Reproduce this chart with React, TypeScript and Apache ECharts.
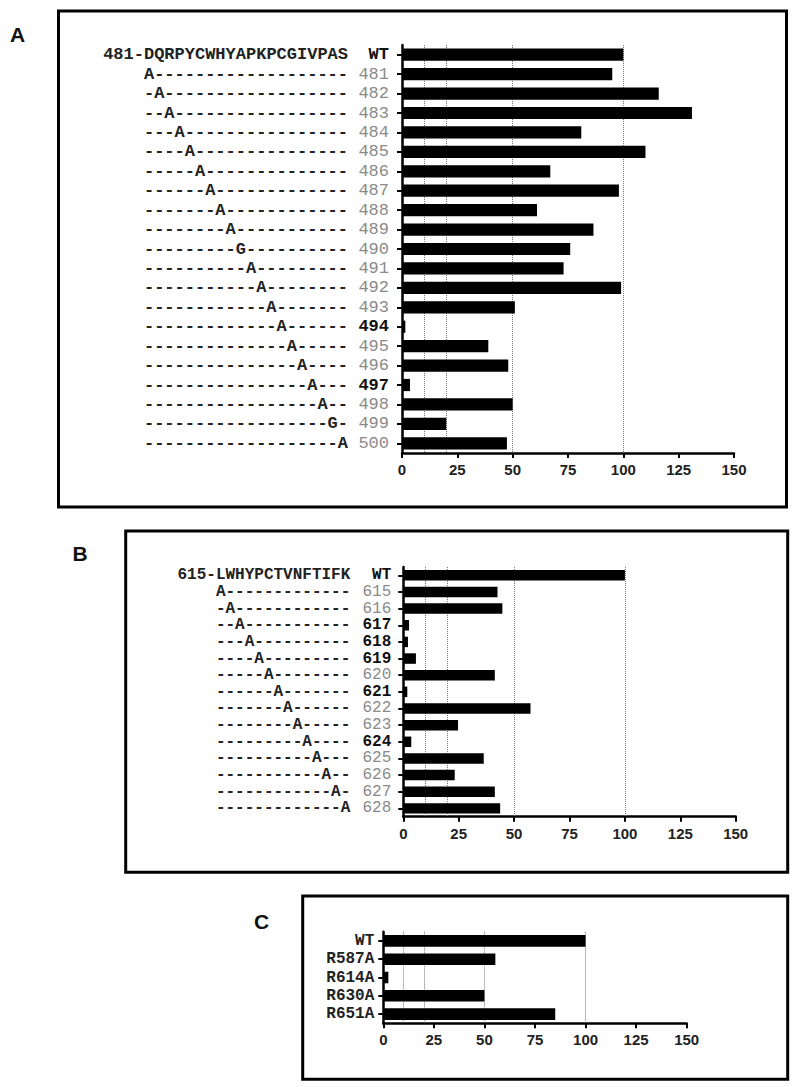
import React, { useEffect, useRef } from 'react';
import * as echarts from 'echarts';

// ---------- Panel A ----------
const aNumbers = ['WT', '481', '482', '483', '484', '485', '486', '487', '488', '489', '490', '491', '492', '493', '494', '495', '496', '497', '498', '499', '500'];
const aSequences = [
  '481-DQRPYCWHYAPKPCGIVPAS',
  'A-------------------',
  '-A------------------',
  '--A-----------------',
  '---A----------------',
  '----A---------------',
  '-----A--------------',
  '------A-------------',
  '-------A------------',
  '--------A-----------',
  '---------G----------',
  '----------A---------',
  '-----------A--------',
  '------------A-------',
  '-------------A------',
  '--------------A-----',
  '---------------A----',
  '----------------A---',
  '-----------------A--',
  '------------------G-',
  '-------------------A',
];
const aValues = [100, 95, 116, 131, 81, 110, 67, 98, 61, 86.5, 76, 73, 99, 51, 1.5, 39, 48, 3.6, 50, 20, 47.4];
const aBold = ['WT', '494', '497'];

// ---------- Panel B ----------
const bNumbers = ['WT', '615', '616', '617', '618', '619', '620', '621', '622', '623', '624', '625', '626', '627', '628'];
const bSequences = [
  '615-LWHYPCTVNFTIFK',
  'A-------------',
  '-A------------',
  '--A-----------',
  '---A----------',
  '----A---------',
  '-----A--------',
  '------A-------',
  '-------A------',
  '--------A-----',
  '---------A----',
  '----------A---',
  '-----------A--',
  '------------A-',
  '-------------A',
];
const bValues = [100, 42.5, 44.7, 2.6, 2.1, 5.7, 41.3, 1.8, 57.4, 24.7, 3.6, 36.3, 23.2, 41.3, 43.7];
const bBold = ['WT', '617', '618', '619', '621', '624'];

// ---------- Panel C ----------
const cLabels = ['WT', 'R587A', 'R614A', 'R630A', 'R651A'];
const cValues = [100, 55.4, 2.5, 50, 85];

// ---------- shared axis ----------
const xMin = 0;
const xMax = 150;
const xInterval = 25;
const refLines = [10, 20, 50, 100];

const MONO = '"Liberation Mono", "Courier New", monospace';
const SANS = '"Liberation Sans", Arial, sans-serif';

function xAxisFor(gridIndex: number) {
  return {
    type: 'value',
    gridIndex,
    min: xMin,
    max: xMax,
    interval: xInterval,
    axisLine: { show: true, lineStyle: { color: '#000', width: 2.5 } },
    axisTick: { show: true, length: 5, lineStyle: { color: '#000', width: 2 } },
    axisLabel: { fontFamily: SANS, fontWeight: 'bold', fontSize: 15, color: '#222', margin: 9 },
    splitLine: { show: false },
  };
}

function numberAxis(gridIndex: number, data: string[], bold: string[], margin: number, fs: number) {
  return {
    type: 'category',
    gridIndex,
    data,
    inverse: true,
    position: 'left',
    axisLine: { show: true, lineStyle: { color: '#000', width: 2.5 } },
    axisTick: { show: true, alignWithLabel: true, length: 5, lineStyle: { color: '#000', width: 2 } },
    axisLabel: {
      interval: 0,
      margin,
      formatter: (v: string) => (bold.includes(v) ? `{b|${v}}` : `{n|${v}}`),
      rich: {
        b: { fontFamily: MONO, fontSize: fs, lineHeight: fs, fontWeight: 'bold', color: '#111' },
        n: { fontFamily: MONO, fontSize: fs, lineHeight: fs, color: '#8a8a8a' },
      },
    },
  };
}

function seqAxis(gridIndex: number, data: string[], margin: number, fs: number) {
  return {
    type: 'category',
    gridIndex,
    data,
    inverse: true,
    position: 'left',
    axisLine: { show: false },
    axisTick: { show: false },
    axisLabel: { interval: 0, margin, fontFamily: MONO, fontSize: fs, lineHeight: fs, fontWeight: 'bold', color: '#222' },
  };
}

function barSeries(xAxisIndex: number, yAxisIndex: number, data: number[]) {
  return {
    type: 'bar',
    xAxisIndex,
    yAxisIndex,
    data,
    barWidth: '63%',
    z: 3,
    itemStyle: { color: '#000' },
    emphasis: { disabled: true },
    markLine: {
      silent: true,
      z: 1,
      symbol: ['none', 'none'],
      label: { show: false },
      lineStyle: { type: 'dotted', color: '#777', width: 1 },
      data: refLines.map((v) => ({ xAxis: v })),
    },
  };
}

export default function App() {
  const ref = useRef<HTMLDivElement>(null);

  useEffect(() => {
    document.body.style.margin = '0';
    if (!ref.current) return;
    const chart = echarts.init(ref.current, null, { renderer: 'svg' });
    const option = {
      animation: false,
      backgroundColor: '#fff',
      grid: [
        { left: 402, top: 45, width: 332, height: 408 },
        { left: 403.3, top: 567, width: 332.4, height: 249.7 },
        { left: 383.3, top: 931.7, width: 303.4, height: 91.6 },
      ],
      xAxis: [xAxisFor(0), xAxisFor(1), xAxisFor(2)],
      yAxis: [
        numberAxis(0, aNumbers, aBold, 13, 17),
        seqAxis(0, aSequences, 54, 17),
        numberAxis(1, bNumbers, bBold, 12, 16),
        seqAxis(1, bSequences, 53, 16),
        {
          type: 'category',
          gridIndex: 2,
          data: cLabels,
          inverse: true,
          position: 'left',
          axisLine: { show: true, lineStyle: { color: '#000', width: 2.5 } },
          axisTick: { show: true, alignWithLabel: true, length: 5, lineStyle: { color: '#000', width: 2 } },
          axisLabel: { interval: 0, margin: 9, fontFamily: MONO, fontSize: 16, lineHeight: 16, fontWeight: 'bold', color: '#222' },
        },
      ],
      series: [
        barSeries(0, 0, aValues),
        barSeries(1, 2, bValues),
        barSeries(2, 4, cValues),
      ],
      graphic: [
        { type: 'rect', silent: true, z: 0, shape: { x: 58.5, y: 11, width: 728, height: 496 }, style: { fill: 'none', stroke: '#000', lineWidth: 3 } },
        { type: 'rect', silent: true, z: 0, shape: { x: 125.7, y: 531, width: 662, height: 341.3 }, style: { fill: 'none', stroke: '#000', lineWidth: 3 } },
        { type: 'rect', silent: true, z: 0, shape: { x: 302.7, y: 896, width: 485, height: 183.3 }, style: { fill: 'none', stroke: '#000', lineWidth: 3 } },
        { type: 'text', silent: true, x: 17.5, y: 34, style: { text: 'A', fontFamily: SANS, fontWeight: 'bold', fontSize: 21, fill: '#111', align: 'center', verticalAlign: 'middle' } },
        { type: 'text', silent: true, x: 80, y: 553, style: { text: 'B', fontFamily: SANS, fontWeight: 'bold', fontSize: 21, fill: '#111', align: 'center', verticalAlign: 'middle' } },
        { type: 'text', silent: true, x: 261.7, y: 921.7, style: { text: 'C', fontFamily: SANS, fontWeight: 'bold', fontSize: 21, fill: '#111', align: 'center', verticalAlign: 'middle' } },
      ],
    };
    chart.setOption(option as any);
    return () => chart.dispose();
  }, []);

  return <div ref={ref} style={{ width: 800, height: 1087 }} />;
}
